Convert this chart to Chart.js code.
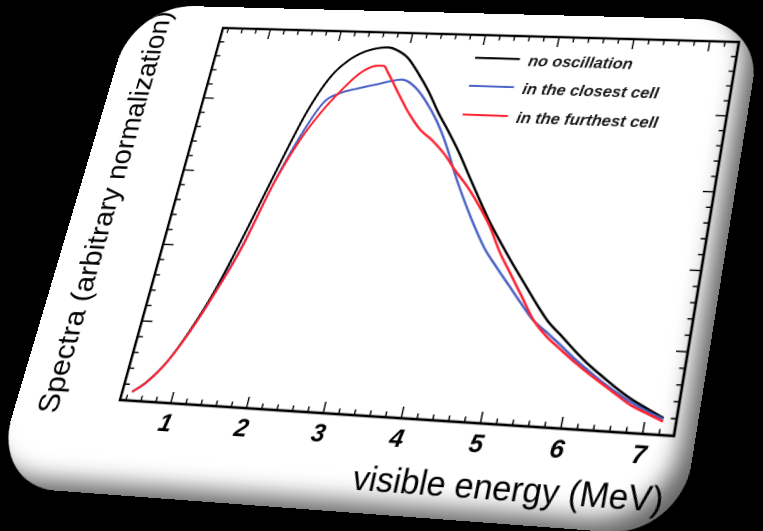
<!DOCTYPE html>
<html>
<head>
<meta charset="utf-8">
<script src="https://cdn.jsdelivr.net/npm/chart.js@4.4.1/dist/chart.umd.min.js"></script>
<style>
  html, body { margin: 0; padding: 0; background: #000; }
  body { width: 763px; height: 531px; overflow: hidden; position: relative; }
  #card {
    position: absolute; left: 0; top: 0;
    width: 665px; height: 508px;
    background: #fff;
    border-radius: 66px;
    overflow: hidden;
    transform-origin: 0 0;
    box-shadow: inset -20px -18px 22px -8px rgba(0, 0, 0, 0.6);
  }
  #card canvas { position: absolute; left: 0; top: 0; }
</style>
</head>
<body>
<div id="card"><canvas id="spectra" width="665" height="508"></canvas></div>
<script>
// Visible-energy spectra: no oscillation vs. the closest and the furthest detector cell
const energyMeV = [0.45, 0.6, 0.8, 1.0, 1.2, 1.4, 1.6, 1.8, 2.0, 2.2, 2.4, 2.6, 2.7, 2.8,
  3.0, 3.2, 3.4, 3.6, 3.8, 4.0, 4.2, 4.4, 4.6, 4.8, 5.0, 5.2, 5.4, 5.6, 5.8, 6.0,
  6.2, 6.4, 6.6, 6.8, 7.0, 7.22];

const noOscillation = [0.022, 0.047, 0.100, 0.184, 0.295, 0.447, 0.612, 0.766, 0.866, 0.917,
  0.944, 0.956, 0.958, 0.954, 0.932, 0.889, 0.839, 0.781, 0.729, 0.674, 0.613, 0.553,
  0.495, 0.443, 0.393, 0.345, 0.297, 0.253, 0.220, 0.186, 0.155, 0.128, 0.102, 0.079,
  0.060, 0.040];

const closestCell = [0.022, 0.046, 0.099, 0.180, 0.284, 0.407, 0.572, 0.703, 0.797, 0.826,
  0.839, 0.850, 0.855, 0.861, 0.869, 0.850, 0.810, 0.759, 0.695, 0.619, 0.550, 0.486,
  0.428, 0.383, 0.340, 0.297, 0.256, 0.228, 0.199, 0.169, 0.142, 0.116, 0.093, 0.072,
  0.054, 0.037];

const furthestCell = [0.022, 0.046, 0.099, 0.180, 0.282, 0.402, 0.570, 0.688, 0.770, 0.832,
  0.882, 0.905, 0.906, 0.884, 0.830, 0.778, 0.735, 0.706, 0.671, 0.627, 0.587, 0.540,
  0.487, 0.422, 0.367, 0.312, 0.257, 0.219, 0.190, 0.162, 0.136, 0.112, 0.088, 0.065,
  0.049, 0.032];

const seriesLabels = ['no oscillation', 'in the closest cell', 'in the furthest cell'];
const seriesColors = ['#000000', '#4b63c6', '#ff2230'];
// stacking: furthest cell on top, then closest cell, then no oscillation
const seriesOrder = [2, 1, 0];

const energyTicks = [1, 2, 3, 4, 5, 6, 7];
const spectraTicks = [0.2, 0.4, 0.6, 0.8];
const energyRange = [0.32, 7.38];
const spectraRange = [0, 1];

// Screen corners of the plot frame once the card is tilted: TL, TR, BR, BL
const FRAME_QUAD = [[223, 28], [739, 42], [674, 436], [120, 400]];

const FONT = '"Liberation Sans", Arial, Helvetica, sans-serif';
Chart.defaults.font.family = FONT;
Chart.defaults.color = '#000';

const pointsOf = (values) => energyMeV.map((e, i) => ({ x: e, y: values[i] }));

// Frame with inward ticks on all four sides, plus the in-frame legend
const frameAndLegend = {
  id: 'frameAndLegend',
  afterDatasetsDraw(chart) {
    const { ctx, chartArea: a, scales: { x, y } } = chart;
    const W = a.right - a.left, H = a.bottom - a.top;
    const majorLen = 11, minorLen = 5.5;
    ctx.save();
    ctx.strokeStyle = '#000';
    ctx.lineWidth = 1.4;
    ctx.beginPath();
    const xStep = 0.2;
    for (let k = Math.ceil(energyRange[0] / xStep); k * xStep <= energyRange[1] + 1e-9; k++) {
      const v = k * xStep;
      const major = energyTicks.some(t => Math.abs(t - v) < 1e-6);
      const len = major ? majorLen : minorLen;
      const px = x.getPixelForValue(v);
      ctx.moveTo(px, a.bottom); ctx.lineTo(px, a.bottom - len);
      ctx.moveTo(px, a.top); ctx.lineTo(px, a.top + len);
    }
    const yStep = 0.04;
    for (let k = 1; k * yStep < spectraRange[1] - 1e-9; k++) {
      const v = k * yStep;
      const major = spectraTicks.some(t => Math.abs(t - v) < 1e-6);
      const len = major ? majorLen : minorLen;
      const py = y.getPixelForValue(v);
      ctx.moveTo(a.left, py); ctx.lineTo(a.left + len, py);
      ctx.moveTo(a.right, py); ctx.lineTo(a.right - len, py);
    }
    ctx.stroke();

    ctx.lineWidth = 2.6;
    ctx.strokeRect(a.left, a.top, W, H);

    // legend
    ctx.font = 'italic bold 16.5px ' + FONT;
    ctx.textBaseline = 'middle';
    ctx.textAlign = 'left';
    const rows = [0.064, 0.142, 0.221];
    chart.data.datasets.forEach((ds, i) => {
      const ry = a.top + rows[i] * H;
      ctx.strokeStyle = ds.borderColor;
      ctx.lineWidth = 2.2;
      ctx.beginPath();
      ctx.moveTo(a.left + 0.511 * W, ry);
      ctx.lineTo(a.left + 0.597 * W, ry);
      ctx.stroke();
      ctx.fillStyle = '#1a1a1a';
      ctx.fillText(ds.label, a.left + 0.614 * W, ry + 2.5);
    });
    ctx.restore();
  }
};

const chart = new Chart(document.getElementById('spectra'), {
  type: 'line',
  data: {
    datasets: [noOscillation, closestCell, furthestCell].map((vals, i) => ({
      label: seriesLabels[i],
      data: pointsOf(vals),
      borderColor: seriesColors[i],
      borderWidth: 2.3,
      pointRadius: 0,
      fill: false,
      order: seriesOrder[i],
      cubicInterpolationMode: 'monotone'
    }))
  },
  options: {
    responsive: false,
    animation: false,
    devicePixelRatio: 2,
    layout: { padding: { left: 18.2, top: 24, right: 20, bottom: 10.8 } },
    plugins: { legend: { display: false }, tooltip: { enabled: false } },
    scales: {
      x: {
        type: 'linear',
        min: energyRange[0],
        max: energyRange[1],
        afterBuildTicks: (scale) => { scale.ticks = energyTicks.map(v => ({ value: v })); },
        ticks: { font: { size: 24, weight: 'bold', style: 'italic' }, color: '#000', padding: 6 },
        grid: { display: false, drawTicks: false },
        border: { display: false },
        title: {
          display: true, text: 'visible energy (MeV)', align: 'end',
          font: { size: 32 }, color: '#000', padding: { top: 0, bottom: 0 }
        }
      },
      y: {
        min: spectraRange[0],
        max: spectraRange[1],
        ticks: { display: false },
        grid: { display: false, drawTicks: false },
        border: { display: false },
        title: {
          display: true, text: 'Spectra (arbitrary normalization)',
          font: { size: 30 }, color: '#000', padding: { top: 0, bottom: 51 }
        }
      }
    }
  },
  plugins: [frameAndLegend]
});

// Projective map from the flat card onto the tilted card
function solveHomography(src, dst) {
  const A = [];
  for (let i = 0; i < 4; i++) {
    const [x, y] = src[i], [X, Y] = dst[i];
    A.push([x, y, 1, 0, 0, 0, -x * X, -y * X, X]);
    A.push([0, 0, 0, x, y, 1, -x * Y, -y * Y, Y]);
  }
  const n = 8;
  for (let c = 0; c < n; c++) {
    let p = c;
    for (let r = c + 1; r < n; r++) if (Math.abs(A[r][c]) > Math.abs(A[p][c])) p = r;
    [A[c], A[p]] = [A[p], A[c]];
    for (let r = 0; r < n; r++) {
      if (r === c) continue;
      const f = A[r][c] / A[c][c];
      for (let k = c; k <= n; k++) A[r][k] -= f * A[c][k];
    }
  }
  return A.map((row, i) => row[n] / row[i]);
}

const a = chart.chartArea;
const h = solveHomography(
  [[a.left, a.top], [a.right, a.top], [a.right, a.bottom], [a.left, a.bottom]],
  FRAME_QUAD
);
document.getElementById('card').style.transform =
  `matrix3d(${h[0]},${h[3]},0,${h[6]},${h[1]},${h[4]},0,${h[7]},0,0,1,0,${h[2]},${h[5]},0,1)`;
</script>
</body>
</html>
